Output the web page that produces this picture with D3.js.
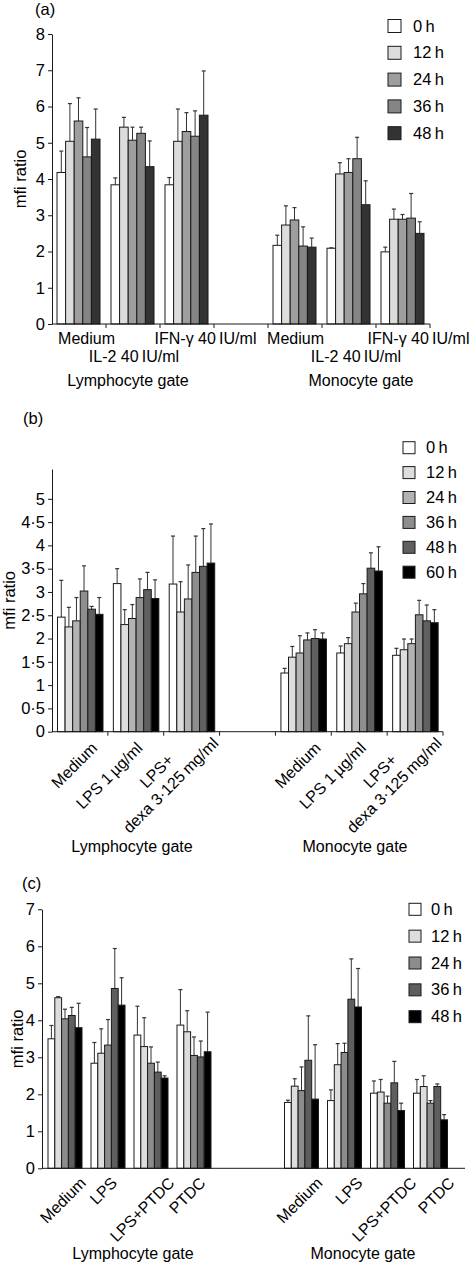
<!DOCTYPE html>
<html><head><meta charset="utf-8">
<script src="https://cdn.jsdelivr.net/npm/d3@7"></script>
<style>
body{margin:0;background:#fff}
text{font-family:"Liberation Sans",Arial,Helvetica,sans-serif;fill:#000}
</style>
</head><body>
<svg id="chart" width="470" height="1262"></svg>
<script>
// ---------------- DATA ----------------
// Panel (a)
const seriesA = ["0\u2009h", "12\u2009h", "24\u2009h", "36\u2009h", "48\u2009h"];
const groupsA = ["Medium", "IL-2 40\u2009IU/ml", "IFN-\u03b3 40\u2009IU/ml", "Medium", "IL-2 40\u2009IU/ml", "IFN-\u03b3 40\u2009IU/ml"];
const meanA = [
  [4.18, 5.04, 5.60, 4.61, 5.10],
  [3.84, 5.43, 5.07, 5.26, 4.34],
  [3.84, 5.04, 5.31, 5.18, 5.76],
  [2.17, 2.73, 2.87, 2.15, 2.12],
  [2.09, 4.14, 4.18, 4.56, 3.29],
  [1.99, 2.89, 2.89, 2.92, 2.50]
];
const errA = [
  [4.77, 6.08, 6.24, 5.42, 5.93],
  [4.03, 5.70, 5.43, 5.43, 5.05],
  [4.04, 5.93, 5.83, 5.88, 6.98],
  [2.45, 3.26, 3.21, 2.68, 2.37],
  [2.10, 4.45, 4.56, 5.15, 3.95],
  [2.12, 3.17, 3.02, 3.60, 2.82]
];
const ticksA = [0, 1, 2, 3, 4, 5, 6, 7, 8];

// Panel (b)
const seriesB = ["0\u2009h", "12\u2009h", "24\u2009h", "36\u2009h", "48\u2009h", "60\u2009h"];
const groupsB = ["Medium", "LPS 1\u2009\u00b5g/ml", "LPS+|dexa 3\u00b7125\u2009mg/ml", "Medium", "LPS 1\u2009\u00b5g/ml", "LPS+|dexa 3\u00b7125\u2009mg/ml"];
const meanB = [
  [2.46, 2.25, 2.38, 3.02, 2.63, 2.52],
  [3.18, 2.30, 2.43, 2.88, 3.05, 2.86],
  [3.17, 2.57, 2.85, 3.42, 3.55, 3.62],
  [1.26, 1.60, 1.69, 1.97, 2.00, 1.99],
  [1.69, 1.89, 2.57, 2.96, 3.51, 3.45],
  [1.64, 1.76, 1.89, 2.51, 2.38, 2.34]
];
const errB = [
  [3.25, 2.67, 2.88, 3.56, 2.69, 2.88],
  [3.50, 2.62, 2.73, 3.28, 3.42, 3.26],
  [4.20, 3.22, 3.58, 4.20, 4.36, 4.46],
  [1.36, 1.83, 2.06, 2.12, 2.19, 2.12],
  [1.84, 2.02, 2.76, 3.18, 3.84, 3.97],
  [1.79, 1.99, 1.99, 2.82, 2.72, 2.62]
];
const ticksB = [0, 0.5, 1, 1.5, 2, 2.5, 3, 3.5, 4, 4.5, 5];

// Panel (c)
const seriesC = ["0\u2009h", "12\u2009h", "24\u2009h", "36\u2009h", "48\u2009h"];
const groupsC = ["Medium", "LPS", "LPS+PTDC", "PTDC", "Medium", "LPS", "LPS+PTDC", "PTDC"];
const meanC = [
  [3.50, 4.61, 4.04, 4.13, 3.80],
  [2.84, 3.11, 3.33, 4.86, 4.41],
  [3.60, 3.29, 2.84, 2.60, 2.44],
  [3.87, 3.69, 3.05, 3.01, 3.15],
  [1.78, 2.22, 2.10, 2.92, 1.87],
  [1.83, 2.80, 3.13, 4.57, 4.36],
  [2.03, 2.06, 1.76, 2.31, 1.56],
  [2.03, 2.21, 1.76, 2.21, 1.31]
];
const errC = [
  [3.86, 4.64, 4.30, 4.35, 4.46],
  [3.40, 3.77, 4.02, 5.94, 5.15],
  [4.38, 4.07, 3.28, 2.87, 2.50],
  [4.83, 4.26, 3.55, 3.44, 4.22],
  [1.84, 2.42, 2.74, 4.12, 3.34],
  [2.12, 3.37, 3.38, 5.66, 5.40],
  [2.36, 2.40, 1.95, 2.89, 1.76],
  [2.40, 2.50, 1.83, 2.28, 1.45]
];
const ticksC = [0, 1, 2, 3, 4, 5, 6, 7];

const gates = ["Lymphocyte gate", "Monocyte gate"];
const yTitle = "mfi ratio";

// ---------------- DRAWING ----------------
const FS = 15.5;
const INK = "#1a1a1a";
const svg = d3.select("#chart");

function drawPanel(cfg) {
  const g = svg.append("g");
  const y = d3.scaleLinear().domain(cfg.yDomain).range([cfg.y0, cfg.y1]);
  const slot = d3.scaleLinear().domain([0, cfg.nSlots]).range([cfg.x0, cfg.x1]);
  const inner = d3.scaleBand().domain(cfg.series).range([cfg.padL, cfg.padL + cfg.groupW]);
  const color = d3.scaleOrdinal().domain(cfg.series).range(cfg.colors);
  const bw = inner.bandwidth();

  // bars + error bars
  cfg.groups.forEach((grp, gi) => {
    const gx = slot(cfg.slots[gi]);
    const gg = g.append("g");
    gg.selectAll("g.bar").data(cfg.series).join("g").each(function (s, si) {
      const sel = d3.select(this);
      const v = cfg.means[gi][si], e = cfg.errs[gi][si];
      const bx = gx + inner(s);
      const cx = bx + bw / 2;
      sel.append("line").attr("x1", cx).attr("x2", cx)
        .attr("y1", y(v)).attr("y2", y(e)).attr("stroke", "#333").attr("stroke-width", 1);
      sel.append("line").attr("x1", cx - 2).attr("x2", cx + 2)
        .attr("y1", y(e)).attr("y2", y(e)).attr("stroke", "#333").attr("stroke-width", 1.2);
      sel.append("rect").attr("x", bx).attr("y", y(v))
        .attr("width", bw).attr("height", y(0) - y(v))
        .attr("fill", color(s)).attr("stroke", INK).attr("stroke-width", 1);
    });
  });

  // y axis
  const ya = g.append("g").attr("transform", `translate(${cfg.x0},0)`)
    .call(d3.axisLeft(y).tickValues(cfg.yTicks).tickSize(4).tickSizeOuter(0).tickPadding(3)
      .tickFormat(d => String(d).replace(".", "\u00b7")));
  ya.select(".domain").attr("stroke", INK);
  ya.selectAll(".tick line").attr("stroke", INK);
  ya.selectAll(".tick text").attr("font-size", FS + 1).attr("fill", "#000")
    .attr("font-family", '"Liberation Sans",Arial,sans-serif');

  // x axis line + separators
  g.append("line").attr("x1", cfg.x0).attr("x2", cfg.x1).attr("y1", y(0)).attr("y2", y(0))
    .attr("stroke", INK).attr("stroke-width", 1);
  (cfg.xTicks || []).forEach(k => {
    g.append("line").attr("x1", slot(k)).attr("x2", slot(k))
      .attr("y1", y(0)).attr("y2", y(0) + 4).attr("stroke", INK);
  });

  // y title
  g.append("text").attr("transform", `translate(${cfg.ylabX},${(cfg.y0 + cfg.y1) / 2}) rotate(-90)`)
    .attr("text-anchor", "middle").attr("font-size", FS + 1).text(yTitle);

  // panel letter
  g.append("text").attr("x", cfg.letterPos[0]).attr("y", cfg.letterPos[1])
    .attr("font-size", FS + 1).text(cfg.letter);

  // legend
  cfg.series.forEach((s, i) => {
    const cy = cfg.legend.y + i * cfg.legend.step;
    g.append("rect").attr("x", cfg.legend.x).attr("y", cy - cfg.legend.size / 2)
      .attr("width", cfg.legend.size).attr("height", cfg.legend.size)
      .attr("fill", color(s)).attr("stroke", INK).attr("stroke-width", 1);
    g.append("text").attr("x", cfg.legend.tx).attr("y", cy + 5.5)
      .attr("font-size", FS + 1).text(s);
  });

  // category labels
  cfg.groups.forEach((grp, gi) => {
    const gc = slot(cfg.slots[gi]) + cfg.padL + cfg.groupW / 2;
    cfg.catLabel(g, grp, gi, gc);
  });

  // gate labels
  gates.forEach((t, i) => {
    g.append("text").attr("x", cfg.gatePos[i]).attr("y", cfg.gateY)
      .attr("text-anchor", "middle").attr("font-size", FS + 0.5).text(t);
  });
}

// Panel (a)
const labDxA = [8, 1.5, 19, 1, 7.5, 16];
drawPanel({
  series: seriesA, groups: groupsA, means: meanA, errs: errA,
  colors: ["#ffffff", "#dcdcdc", "#9e9e9e", "#858585", "#333333"],
  x0: 52, x1: 430, nSlots: 7, slots: [0, 1, 2, 4, 5, 6], padL: 5, groupW: 43,
  xTicks: [1, 2, 3, 4, 5, 6, 7],
  yDomain: [0, 8], y0: 324, y1: 34, yTicks: ticksA,
  ylabX: 26, letter: "(a)", letterPos: [35, 15],
  legend: { x: 388, size: 13, y: 26, step: 26.8, tx: 413 },
  gatePos: [128, 361], gateY: 386,
  catLabel: (g, t, gi, gc) => {
    const row2 = (gi === 1 || gi === 4);
    g.append("text").attr("x", gc + labDxA[gi]).attr("y", row2 ? 362 : 343.5)
      .attr("text-anchor", "middle").attr("font-size", FS + 0.5).text(t);
  }
});

// Panel (b)
const labDxB = [18, 7.5, -31.5, 18, 7.5, -31.5];
drawPanel({
  series: seriesB, groups: groupsB, means: meanB, errs: errB,
  colors: ["#ffffff", "#dddddd", "#b3b3b3", "#8e8e8e", "#606060", "#000000"],
  x0: 52, x1: 443, nSlots: 7, slots: [0, 1, 2, 4, 5, 6], padL: 5.5, groupW: 45.5,
  xTicks: [1, 2, 3, 4, 5, 6, 7],
  yDomain: [0, 5.64], y0: 731.7, y1: 469, yTicks: ticksB,
  ylabX: 15, letter: "(b)", letterPos: [23, 424],
  legend: { x: 403, size: 12, y: 447.7, step: 24.9, tx: 426 },
  gatePos: [132, 355], gateY: 852,
  catLabel: (g, t, gi, gc) => {
    const parts = t.split("|");
    if (parts.length === 1) {
      g.append("text").attr("transform", `translate(${gc + labDxB[gi]},749) rotate(-45)`)
        .attr("text-anchor", "end").attr("font-size", FS + 0.5).text(t);
    } else {
      const tx = g.append("text").attr("transform", `translate(${gc + labDxB[gi]},775) rotate(-45)`)
        .attr("text-anchor", "middle").attr("font-size", FS + 0.5);
      parts.forEach((p, i) => tx.append("tspan").attr("x", 0).attr("dy", i ? 20 : 0).text(p));
    }
  }
});

// Panel (c)
const labDxC = [22, 10, 24.5, 12.5, 22, 19, 30, 25];
drawPanel({
  series: seriesC, groups: groupsC, means: meanC, errs: errC,
  colors: ["#ffffff", "#dddddd", "#8c8c8c", "#5e5e5e", "#000000"],
  x0: 42, x1: 465, nSlots: 423 / 43, slots: [0, 1, 2, 3, 5.5, 6.5, 7.5, 8.5], padL: 6, groupW: 34,
  xTicks: [],
  yDomain: [0, 7], y0: 1168.3, y1: 909.3, yTicks: ticksC,
  ylabX: 23, letter: "(c)", letterPos: [22, 889],
  legend: { x: 409, size: 12, y: 909.3, step: 26.85, tx: 431 },
  gatePos: [133, 363], gateY: 1258.5,
  catLabel: (g, t, gi, gc) => {
    g.append("text").attr("transform", `translate(${gc + labDxC[gi]},1184) rotate(-45)`)
      .attr("text-anchor", "end").attr("font-size", FS + 0.5).text(t);
  }
});
</script>
</body></html>
